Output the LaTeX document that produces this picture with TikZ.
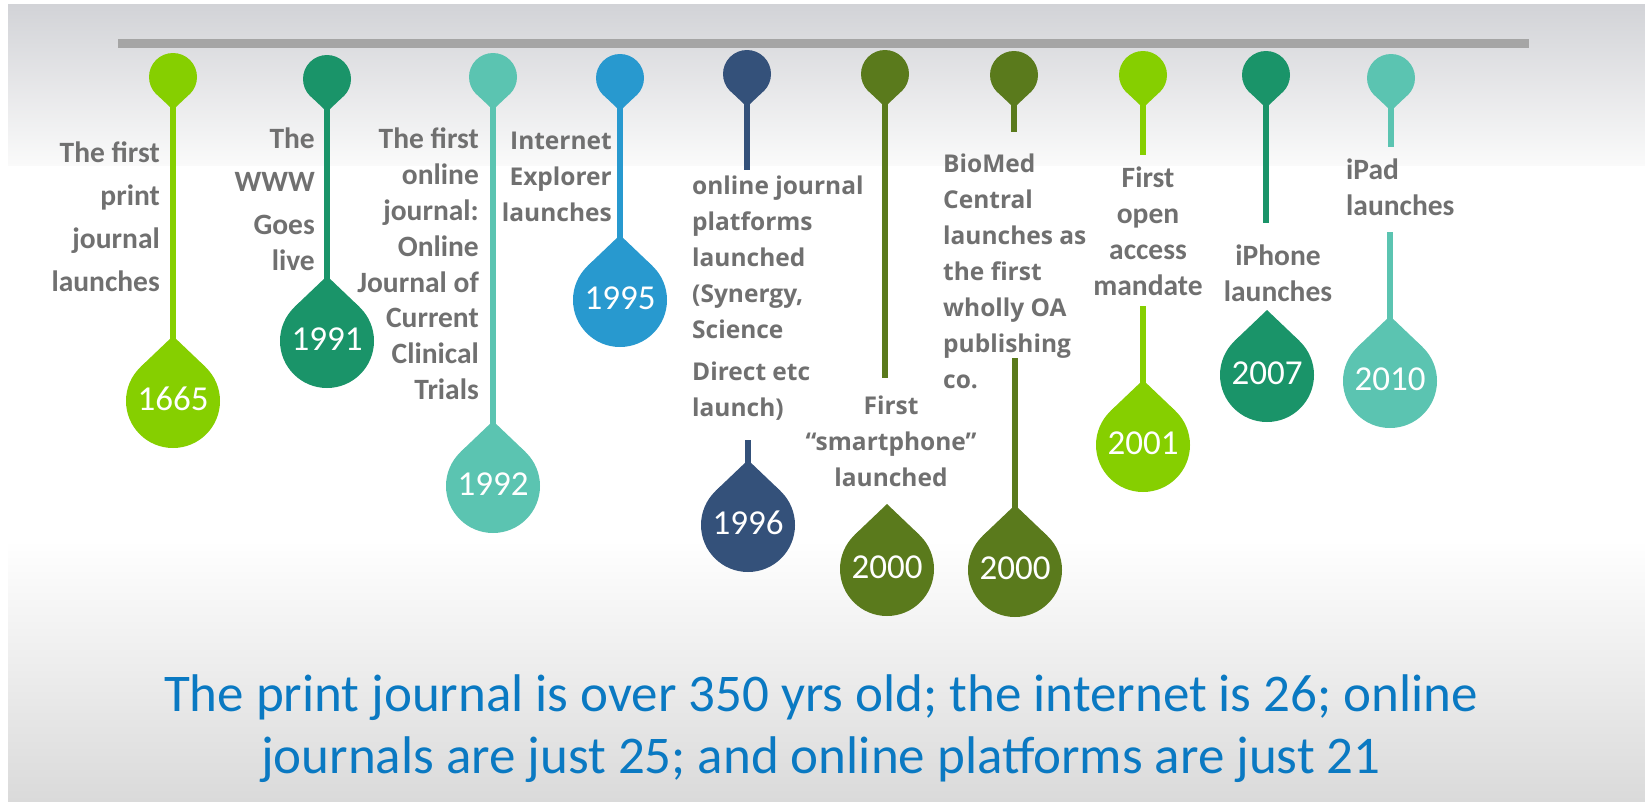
\documentclass[tikz,border=0pt]{standalone}
\usepackage{fontspec}
\setmainfont{Carlito}
\newfontfamily\osans{Open Sans}
\usetikzlibrary{calc}
\definecolor{lgreen}{HTML}{86CF00}
\definecolor{dgreen}{HTML}{1A9469}
\definecolor{teal}{HTML}{5BC4B1}
\definecolor{blue}{HTML}{2899CF}
\definecolor{navy}{HTML}{34517A}
\definecolor{olive}{HTML}{5A7A1C}
\definecolor{bargray}{HTML}{A5A5A5}
\definecolor{labgray}{HTML}{707070}
\definecolor{notblue}{HTML}{0A79C2}
\definecolor{bgtop}{HTML}{D2D3D7}
\definecolor{bgbot}{HTML}{DADADA}
\tikzset{
  headc/.style={circle, minimum size=48pt, inner sep=0pt, outer sep=0pt},
  dropc/.style={circle, minimum size=94pt, inner sep=0pt, outer sep=0pt, text=white,
    font=\fontsize{35}{40}\selectfont},
  stem/.style={line width=6pt},
  labc/.style={inner sep=0pt, text=labgray, font=\bfseries\fontsize{29.5}{36}\selectfont},
  labo/.style={inner sep=0pt, text=labgray, font=\osans\bfseries\fontsize{24.5}{36}\selectfont},
}
% head: name, x, y, colour
\newcommand\headpin[4]{%
  \fill[#4] (#2-14.4,#3+19.2) -- (#2-3,#3+30) -- (#2+3,#3+30) -- (#2+14.4,#3+19.2) -- cycle;
  \node[headc, fill=#4] (#1) at (#2,#3) {};
}
% drop: name, x, y, colour, year
\newcommand\yeardrop[5]{%
  \fill[#4] (#2-32.5,#3-34) -- (#2,#3-65) -- (#2+32.5,#3-34) -- cycle;
  \node[dropc, fill=#4] (#1) at (#2,#3) {\raisebox{4pt}{#5}};
}
\begin{document}
\begin{tikzpicture}[x=1pt, y=-1pt]
\useasboundingbox (0,0) rectangle (1645,803);
\fill[white] (0,0) rectangle (1645,803);
\shade[top color=bgtop, bottom color=white!98!black] (8,4) rectangle (1645,165);
\shade[top color=white, bottom color=bgbot] (8,540) rectangle (1645,801);
\fill[bargray] (118,39) rectangle (1529,47.5);

% 1 - 1665
\headpin{h1}{173}{77}{lgreen}
\yeardrop{d1}{173}{401}{lgreen}{1665}
\draw[stem, lgreen] (h1) -- (d1);
\node[labc, align=right, anchor=north east, font=\bfseries\fontsize{29.5}{43}\selectfont] (l1) at (160,142)
  {The first\\print\\journal\\launches};

% 2 - 1991
\headpin{h2}{327}{79}{dgreen}
\yeardrop{d2}{327}{341}{dgreen}{1991}
\draw[stem, dgreen] (h2) -- (d2);
\node[labc, align=right, anchor=north east, font=\bfseries\fontsize{29.5}{43}\selectfont] (l2) at (315,128)
  {The\\WWW\\Goes\\[-7pt]live};

% 3 - 1992
\headpin{h3}{493}{77}{teal}
\yeardrop{d3}{493}{486}{teal}{1992}
\draw[stem, teal] (h3) -- (d3);
\node[labc, align=right, anchor=north east, font=\bfseries\fontsize{29.5}{35.8}\selectfont] (l3) at (479,128)
  {The first\\online\\journal:\\Online\\Journal of\\Current\\Clinical\\Trials};

% 4 - 1995
\headpin{h4}{620}{78}{blue}
\yeardrop{d4}{620}{300}{blue}{1995}
\draw[stem, blue] (h4) -- (d4);
\node[labo, align=right, anchor=north east] (l4) at (612,132)
  {Internet\\Explorer\\launches};

% 5 - 1996
\headpin{h5}{747}{74}{navy}
\yeardrop{d5}{748}{525}{navy}{1996}
\coordinate (s5a) at (747,170);
\coordinate (s5b) at (748,440);
\draw[stem, navy] (h5) -- (s5a);
\draw[stem, navy] (s5b) -- (d5);
\node[labo, align=left, anchor=north west, font=\osans\bfseries\fontsize{24.5}{35.8}\selectfont] (l5) at (692,176)
  {online journal\\platforms\\launched\\(Synergy,\\Science\\[7pt]Direct etc\\launch)};

% 6 - 2000
\headpin{h6}{885}{74}{olive}
\yeardrop{d6}{887}{569}{olive}{2000}
\coordinate (s6a) at (885,378);
\draw[stem, olive] (h6) -- (s6a);
\node[labo, align=center, anchor=north, font=\osans\bfseries\fontsize{24.5}{35.6}\selectfont] (l6) at (891,396)
  {First\\“smartphone”\\launched};

% 7 - 2000 BioMed
\headpin{h7}{1014}{75}{olive}
\yeardrop{d7}{1015}{570}{olive}{2000}
\coordinate (s7a) at (1014,132);
\coordinate (s7b) at (1015,358);
\draw[stem, olive] (h7) -- (s7a);
\draw[stem, olive] (s7b) -- (d7);
\node[labo, align=left, anchor=north west] (l7) at (943,154)
  {BioMed\\Central\\launches as\\the first\\wholly OA\\publishing\\co.};

% 8 - 2001
\headpin{h8}{1143}{75}{lgreen}
\yeardrop{d8}{1143}{445}{lgreen}{2001}
\coordinate (s8a) at (1143,155);
\coordinate (s8b) at (1143,306);
\draw[stem, lgreen] (h8) -- (s8a);
\draw[stem, lgreen] (s8b) -- (d8);
\node[labc, align=center, anchor=north] (l8) at (1148,167)
  {First\\open\\access\\mandate};

% 9 - 2007
\headpin{h9}{1266}{75}{dgreen}
\yeardrop{d9}{1267}{375}{dgreen}{2007}
\coordinate (s9a) at (1266,223);
\draw[stem, dgreen] (h9) -- (s9a);
\node[labc, align=center, anchor=north] (l9) at (1278,245)
  {iPhone\\launches};

% 10 - 2010
\headpin{h10}{1391}{78}{teal}
\yeardrop{d10}{1390}{381}{teal}{2010}
\coordinate (s10a) at (1391,147);
\coordinate (s10b) at (1390,232);
\draw[stem, teal] (h10) -- (s10a);
\draw[stem, teal] (s10b) -- (d10);
\node[labc, align=left, anchor=north west] (l10) at (1346,159)
  {iPad\\launches};

% bottom note
\node[inner sep=0pt, anchor=north, align=center, text=notblue,
  font=\fontsize{53}{62}\selectfont] (note) at (821,674)
  {The print journal is over 350 yrs old; the internet is 26; online\\journals are just 25; and online platforms are just 21};
\end{tikzpicture}
\end{document}
